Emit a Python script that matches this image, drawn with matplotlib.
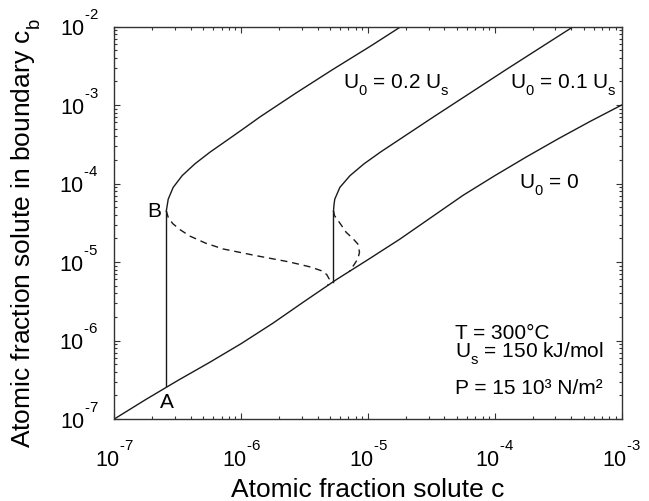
import numpy as np
import matplotlib
matplotlib.use("Agg")
import matplotlib.pyplot as plt
import matplotlib._mathtext as _mt
from matplotlib.ticker import FixedLocator, NullFormatter, FixedFormatter
from matplotlib.transforms import ScaledTranslation

plt.rcParams['font.family'] = ['Liberation Sans', 'DejaVu Sans']
plt.rcParams['mathtext.fontset'] = 'custom'
plt.rcParams['mathtext.rm'] = 'Liberation Sans'
plt.rcParams['mathtext.it'] = 'Liberation Sans:italic'
plt.rcParams['mathtext.bf'] = 'Liberation Sans:bold'
plt.rcParams['mathtext.default'] = 'regular'
plt.rcParams['lines.scale_dashes'] = False
# higher superscripts / lower subscripts, as in the reference
_mt.FontConstantsBase.sup1 = 1.35
_mt.FontConstantsBase.sub1 = 0.72

# ---- data (log10 values) ----
# U0 = 0 curve (also the lower stable branch of the other curves)
u0_logc = [-7.0, -6.75, -6.5, -6.25, -6.0, -5.75, -5.5, -5.25, -5.0,
           -4.75, -4.5, -4.25, -4.0, -3.75, -3.5, -3.25, -3.0]
u0_logcb = [-7.0, -6.75, -6.51, -6.28, -6.04, -5.78, -5.50, -5.225, -4.97,
            -4.71, -4.43, -4.15, -3.90, -3.66, -3.43, -3.21, -3.0]

# U0 = 0.2 Us: upper branch, jump A->B, unstable (dashed) branch
u02_up_logc = [-6.590, -6.582, -6.575, -6.536, -6.465, -6.365, -6.245, -6.112,
               -5.980, -5.850, -5.570, -5.280, -4.980, -4.739]
u02_up_logcb = [-4.35, -4.27, -4.20, -4.05, -3.90, -3.75, -3.60, -3.45,
                -3.30, -3.15, -2.85, -2.55, -2.25, -2.0]
u02_jump_logc = [-6.590, -6.590]
u02_jump_logcb = [-6.585, -4.350]
u02_dash_logc = [-6.590, -6.575, -6.540, -6.480, -6.404, -6.280, -6.142, -5.880,
                 -5.631, -5.539, -5.450, -5.370, -5.325, -5.305, -5.316]
u02_dash_logcb = [-4.350, -4.431, -4.510, -4.590, -4.670, -4.760, -4.834, -4.920,
                  -4.996, -5.030, -5.065, -5.110, -5.160, -5.220, -5.298]

# U0 = 0.1 Us
u01_up_logc = [-5.272, -5.268, -5.262, -5.222, -5.142, -5.032, -4.902, -4.762,
               -4.622, -4.482, -4.197, -3.912, -3.622, -3.38]
u01_up_logcb = [-4.35, -4.27, -4.20, -4.05, -3.90, -3.75, -3.60, -3.45,
                -3.30, -3.15, -2.85, -2.55, -2.25, -2.0]
u01_jump_logc = [-5.272, -5.272]
u01_jump_logcb = [-5.249, -4.35]
u01_dash_logc = [-5.272, -5.264, -5.215, -5.172, -5.120, -5.080, -5.067, -5.080,
                 -5.106, -5.146]
u01_dash_logcb = [-4.35, -4.410, -4.520, -4.622, -4.700, -4.771, -4.876, -4.960,
                  -5.025, -5.119]

x_ticks = [1e-7, 1e-6, 1e-5, 1e-4, 1e-3]
x_ticklabels = [r'$10^{\text{-}7}$', r'$10^{\text{-}6}$', r'$10^{\text{-}5}$',
                r'$10^{\text{-}4}$', r'$10^{\text{-}3}$']
y_ticks = [1e-7, 1e-6, 1e-5, 1e-4, 1e-3, 1e-2]
y_ticklabels = [r'$10^{\text{-}7}$', r'$10^{\text{-}6}$', r'$10^{\text{-}5}$',
                r'$10^{\text{-}4}$', r'$10^{\text{-}3}$', r'$10^{\text{-}2}$']


def p(v):
    return 10 ** np.asarray(v, dtype=float)


fig = plt.figure(figsize=(6.49, 5.02), dpi=100)
ax = fig.add_axes([114.3 / 649, 82 / 502, 507.4 / 649, 392.5 / 502])
ax.set_xscale('log')
ax.set_yscale('log')
ax.set_xlim(1e-7, 1e-3)
ax.set_ylim(1e-7, 1e-2)

lc = '#1a1a1a'
lw = 1.0
dash = (5, 3.5)
ax.plot(p(u0_logc), p(u0_logcb), color=lc, lw=lw)
ax.plot(p(u02_up_logc), p(u02_up_logcb), color=lc, lw=lw)
ax.plot(p(u02_jump_logc), p(u02_jump_logcb), color=lc, lw=lw)
ax.plot(p(u02_dash_logc), p(u02_dash_logcb), color=lc, lw=lw, dashes=dash)
ax.plot(p(u01_up_logc), p(u01_up_logcb), color=lc, lw=lw)
ax.plot(p(u01_jump_logc), p(u01_jump_logcb), color=lc, lw=lw)
ax.plot(p(u01_dash_logc), p(u01_dash_logcb), color=lc, lw=lw, dashes=dash)

# ticks
minor_x = [m * 10.0 ** e for e in range(-7, -3) for m in range(2, 10)]
minor_y = [m * 10.0 ** e for e in range(-7, -2) for m in range(2, 10)]
ax.xaxis.set_major_locator(FixedLocator(x_ticks))
ax.xaxis.set_major_formatter(FixedFormatter(x_ticklabels))
ax.xaxis.set_minor_locator(FixedLocator(minor_x))
ax.xaxis.set_minor_formatter(NullFormatter())
ax.yaxis.set_major_locator(FixedLocator(y_ticks))
ax.yaxis.set_major_formatter(FixedFormatter(y_ticklabels))
ax.yaxis.set_minor_locator(FixedLocator(minor_y))
ax.yaxis.set_minor_formatter(NullFormatter())
ax.tick_params(which='both', direction='in', top=True, right=True,
               color='#333333', width=0.8)
ax.tick_params(which='major', length=4.0, labelsize=15.5)
ax.tick_params(which='minor', length=2.0)
ax.tick_params(axis='x', which='major', pad=15.5)
ax.tick_params(axis='y', which='major', pad=11.5)
for s in ax.spines.values():
    s.set_color('#333333')
    s.set_linewidth(1.0)
up = ScaledTranslation(0, 3 / 72, fig.dpi_scale_trans)
for lab in ax.get_yticklabels():
    lab.set_transform(lab.get_transform() + up)

# annotations
fs = 15
ax.text(0.450, 0.8451, r'U$_0$ = 0.2 U$_s$', transform=ax.transAxes, fontsize=fs,
        va='baseline', ha='left')
ax.text(0.780, 0.8451, r'U$_0$ = 0.1 U$_s$', transform=ax.transAxes, fontsize=fs,
        va='baseline', ha='left')
ax.text(0.797, 0.5898, r'U$_0$ = 0', transform=ax.transAxes, fontsize=fs,
        va='baseline', ha='left')
ax.text(0.065, 0.518, 'B', transform=ax.transAxes, fontsize=fs,
        va='baseline', ha='left')
ax.text(0.089, 0.0306, 'A', transform=ax.transAxes, fontsize=fs,
        va='baseline', ha='left')
ax.text(0.6715, 0.1613, 'T = 300°C\nU$_s$ = 150 kJ/mol', transform=ax.transAxes,
        fontsize=fs, va='baseline', ha='left', linespacing=0.8)
ax.text(0.6715, 0.0662, 'P = 15 10³ N/m²', transform=ax.transAxes, fontsize=fs,
        va='baseline', ha='left')

fig.text(368 / 649, 5 / 502, 'Atomic fraction solute c', ha='center', va='baseline',
         fontsize=19)
fig.text(26 / 649, 1 - 233 / 502, r'Atomic fraction solute in boundary c$_b$',
         rotation=90, ha='center', va='center', fontsize=19)

fig.savefig('out.png', dpi=100)
